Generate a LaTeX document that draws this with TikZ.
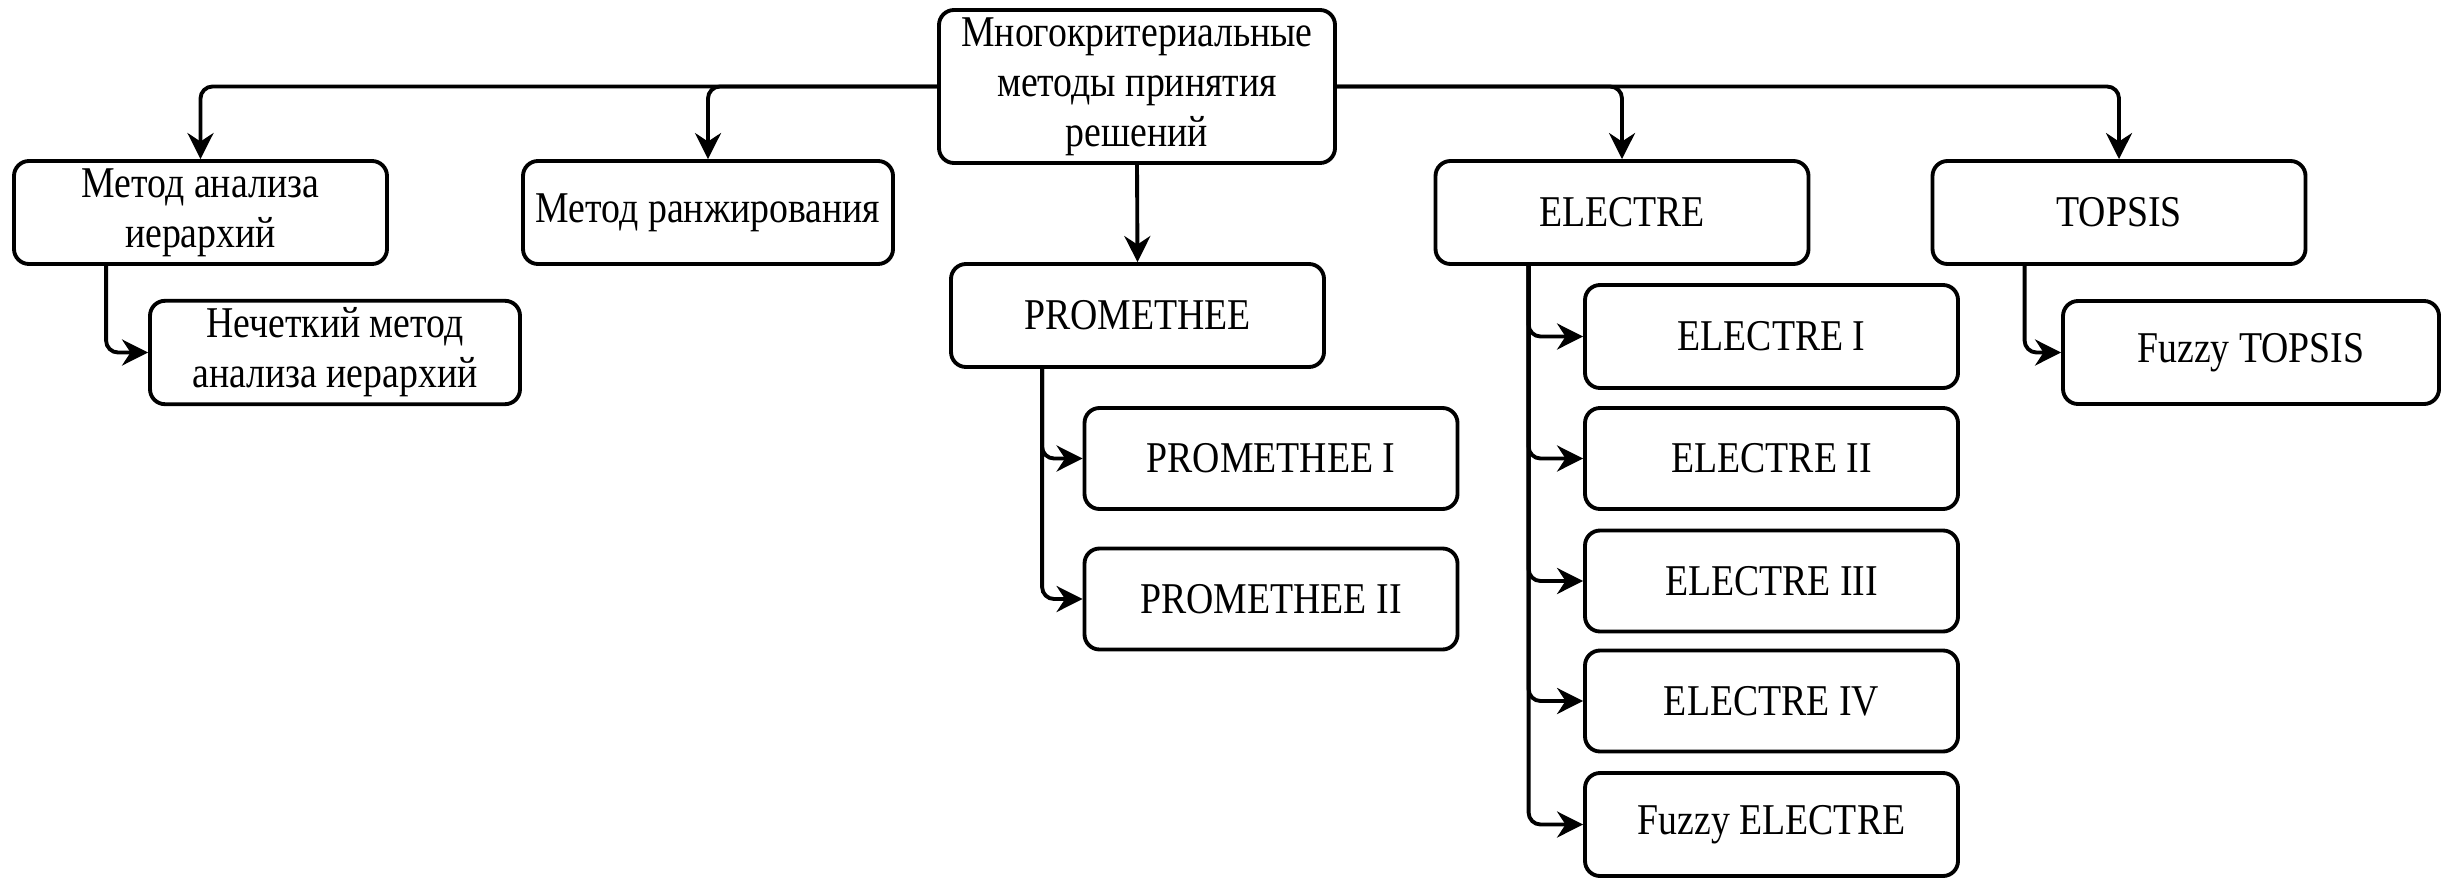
\documentclass[tikz,border=0pt]{standalone}
\usepackage{fontspec}
\setmainfont[FakeStretch=0.86]{Liberation Serif}
\usetikzlibrary{arrows.meta}

\tikzset{
  box/.style={draw, line width=1.1pt, rounded corners=0.15cm,
    minimum width=3.73cm, minimum height=1.03cm, align=center,
    inner sep=2pt, font=\fontsize{12.5}{14.2}\selectfont},
  link/.style={line width=1.1pt, rounded corners=0.12cm,
    -{Stealth[length=0.26cm,width=0.26cm]}}
}

\begin{document}
\begin{tikzpicture}
	\useasboundingbox (0,0) rectangle (24.51,-8.86);

	% top level
	\node[box, minimum width=3.96cm, minimum height=1.53cm] (root) at (11.37,-0.865)
		{Многокритериальные\\методы принятия\\решений};
	\node[box] (ahp) at (2.005,-2.125) {Метод анализа\\иерархий};
	\node[box, minimum width=3.70cm] (rank) at (7.08,-2.125) {Метод ранжирования};
	\node[box] (prom) at (11.375,-3.155) {PROMETHEE};
	\node[box] (electre) at (16.22,-2.125) {ELECTRE};
	\node[box] (topsis) at (21.19,-2.125) {TOPSIS};

	% second level
	\node[box, minimum width=3.70cm] (fahp) at (3.35,-3.525) {Нечеткий метод\\анализа иерархий};
	\node[box, minimum height=1.01cm] (prom1) at (12.71,-4.585) {PROMETHEE I};
	\node[box, minimum height=1.01cm] (prom2) at (12.71,-5.99) {PROMETHEE II};
	\node[box] (el1) at (17.715,-3.365) {ELECTRE I};
	\node[box, minimum height=1.01cm] (el2) at (17.715,-4.585) {ELECTRE II};
	\node[box, minimum height=1.01cm] (el3) at (17.715,-5.81) {ELECTRE III};
	\node[box, minimum height=1.01cm] (el4) at (17.715,-7.01) {ELECTRE IV};
	\node[box] (fel) at (17.715,-8.245) {Fuzzy ELECTRE};
	\node[box, minimum width=3.76cm] (ftop) at (22.51,-3.525) {Fuzzy TOPSIS};

	% links from the root
	\draw[link] (root.west) -| (ahp.north);
	\draw[link] (root.west) -| (rank.north);
	\draw[link] (root.south) -- (prom.north);
	\draw[link] (root.east) -| (electre.north);
	\draw[link] (root.east) -| (topsis.north);

	% links to the variants
	\draw[link] ([xshift=0.94cm]ahp.south west) |- (fahp.west);
	\draw[link] ([xshift=0.93cm]prom.south west) |- (prom1.west);
	\draw[link] ([xshift=0.93cm]prom.south west) |- (prom2.west);
	\foreach \n in {el1,el2,el3,el4,fel}
		\draw[link] ([xshift=0.95cm]electre.south west) |- (\n.west);
	\draw[link] ([xshift=0.94cm]topsis.south west) |- (ftop.west);
\end{tikzpicture}
\end{document}
